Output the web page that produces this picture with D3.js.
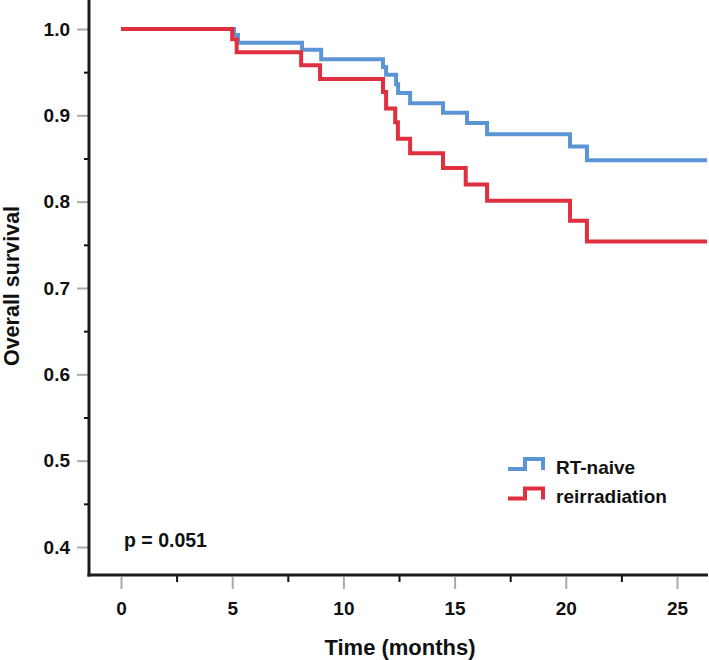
<!DOCTYPE html>
<html>
<head>
<meta charset="utf-8">
<script src="https://cdn.jsdelivr.net/npm/d3@7"></script>
<style>
  body { margin: 0; background: #fff; }
  text { font-family: "Liberation Sans", Arial, sans-serif; font-weight: bold; fill: #111; }
</style>
</head>
<body>
<div id="app"></div>
<script>
// Kaplan-Meier curves, values
const naiveTimes = [0, 5.08, 5.26, 8.14, 9.0, 11.78, 11.92, 12.37, 12.46, 13.0, 14.48, 15.56, 16.46, 20.19, 20.95]
const naiveSurv  = [1.0, 0.993, 0.984, 0.976, 0.965, 0.956, 0.947, 0.936, 0.926, 0.914, 0.903, 0.891, 0.878, 0.864, 0.848]
const reirrTimes = [0, 5.0, 5.2, 8.1, 8.95, 11.78, 11.92, 12.33, 12.45, 13.0, 14.48, 15.5, 16.46, 20.19, 20.95]
const reirrSurv  = [1.0, 0.988, 0.973, 0.958, 0.942, 0.927, 0.908, 0.892, 0.873, 0.856, 0.839, 0.820, 0.801, 0.778, 0.754]
const followUpEnd = 26.35

const xTicks = [0, 5, 10, 15, 20, 25]
const xMinor = [2.5, 7.5, 12.5, 17.5, 22.5]
const yTicks = [0.4, 0.5, 0.6, 0.7, 0.8, 0.9, 1.0]
const yMinor = [0.45, 0.55, 0.65, 0.75, 0.85, 0.95]
const seriesNames = ["RT-naive", "reirradiation"]
const pLabel = "p = 0.051"

var w = 709
var h = 660
const blue = "#5b95d5"
const red = "#e0303f"

const svg = d3.select("#app")
    .append("svg")
    .attr("width", w)
    .attr("height", h)

const x = d3.scaleLinear().domain([0, 25]).range([121, 677])
const y = d3.scaleLinear().domain([0.4, 1.0]).range([547, 29])

// major ticks (gray), minor ticks (black)
const yAxis = svg.append("g")
    .attr("transform", "translate(88,0)")
    .call(d3.axisLeft(y).tickValues(yTicks).tickSize(11).tickPadding(7).tickFormat(d3.format(".1f")))
yAxis.select(".domain").remove()
yAxis.selectAll("line").attr("stroke", "#aaa").attr("stroke-width", 2)
yAxis.selectAll("text").style("font-size", "19px").attr("fill", "#111")

const yMin = svg.append("g")
    .attr("transform", "translate(89,0)")
    .call(d3.axisLeft(y).tickValues(yMinor).tickSize(5).tickFormat(""))
yMin.select(".domain").remove()
yMin.selectAll("line").attr("stroke", "#111").attr("stroke-width", 2)

const xAxis = svg.append("g")
    .attr("transform", "translate(0,577)")
    .call(d3.axisBottom(x).tickValues(xTicks).tickSize(12).tickPadding(13))
xAxis.select(".domain").remove()
xAxis.selectAll("line").attr("stroke", "#aaa").attr("stroke-width", 2)
xAxis.selectAll("text").style("font-size", "19px").attr("fill", "#111")

const xMin = svg.append("g")
    .attr("transform", "translate(0,575)")
    .call(d3.axisBottom(x).tickValues(xMinor).tickSize(7).tickFormat(""))
xMin.select(".domain").remove()
xMin.selectAll("line").attr("stroke", "#111").attr("stroke-width", 2)

// axis lines
svg.append("line").attr("x1", 89).attr("x2", 89).attr("y1", 0).attr("y2", 576.5)
    .attr("stroke", "#1a1a1a").attr("stroke-width", 3)
svg.append("line").attr("x1", 87.5).attr("x2", 708).attr("y1", 575).attr("y2", 575)
    .attr("stroke", "#1a1a1a").attr("stroke-width", 3)

// curves
const line = d3.line()
    .x(d => x(d[0]))
    .y(d => y(d[1]))
    .curve(d3.curveStepAfter)

function pts(times, surv) {
    const p = times.map((t, i) => [t, surv[i]])
    p.push([followUpEnd, surv[surv.length - 1]])
    return p
}

svg.append("path")
    .attr("d", line(pts(naiveTimes, naiveSurv)))
    .attr("fill", "none").attr("stroke", blue).attr("stroke-width", 4)
svg.append("path")
    .attr("d", line(pts(reirrTimes, reirrSurv)))
    .attr("fill", "none").attr("stroke", red).attr("stroke-width", 4)

// legend
const legend = svg.append("g").attr("id", "legend")
const legColors = [blue, red]
seriesNames.forEach((name, i) => {
    const base = 469 + i * 29.5
    legend.append("path")
        .attr("d", `M508,${base} H525 V${base - 10} H543 V${base + 1}`)
        .attr("fill", "none").attr("stroke", legColors[i]).attr("stroke-width", 4)
    legend.append("text")
        .attr("x", 556).attr("y", base + 4.5)
        .style("font-size", "19px")
        .text(name)
})

svg.append("text")
    .attr("x", 124).attr("y", 547)
    .style("font-size", "19.5px")
    .text(pLabel)

// axis titles
svg.append("text")
    .attr("x", 400).attr("y", 655)
    .attr("text-anchor", "middle")
    .style("font-size", "22px")
    .text("Time (months)")

svg.append("text")
    .attr("transform", "translate(19,286) rotate(-90)")
    .attr("text-anchor", "middle")
    .style("font-size", "21.5px")
    .text("Overall survival")
</script>
</body>
</html>
